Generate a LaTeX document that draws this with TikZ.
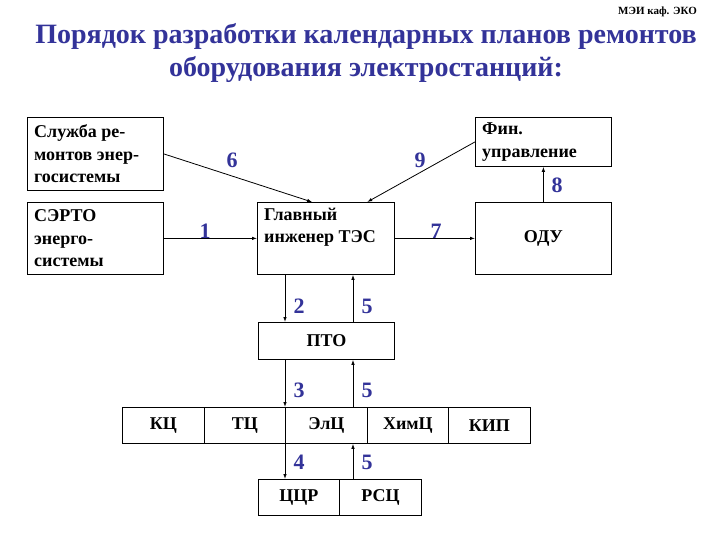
\documentclass[tikz,border=0pt]{standalone}
\usepackage{fontspec}
\setmainfont{Liberation Serif}
\usetikzlibrary{arrows.meta,calc}
\definecolor{ttl}{RGB}{51,51,153}
\begin{document}
\begin{tikzpicture}[x=1pt,y=-1pt,
  box/.style={draw, line width=0.8pt, inner sep=0pt, anchor=north west},
  cell/.style={box, font=\fontsize{18}{22}\selectfont\bfseries},
  txt/.style={font=\fontsize{18}{22.5}\selectfont\bfseries, align=left, anchor=west, inner sep=0pt},
  num/.style={font=\fontsize{22}{24}\selectfont\bfseries, text=ttl},
  arr/.style={line width=0.8pt, -{Latex[length=5pt,width=3.5pt]}}]
\useasboundingbox (0,0) rectangle (720,540);
\node[font=\fontsize{11}{12}\selectfont\bfseries, anchor=east, inner sep=0pt] (hdr) at (697,12) {МЭИ каф. ЭКО};
\node[font=\fontsize{28}{33}\selectfont\bfseries, text=ttl, align=center] (title) at (366,53)
  {Порядок разработки календарных планов ремонтов\\оборудования электростанций:};
% boxes
\node[box, minimum width=136pt, minimum height=73pt] (sl) at (27,117) {};
\node[txt] (tsl) at ([xshift=7pt]sl.west) {Служба ре-\\монтов энер-\\госистемы};
\node[box, minimum width=136pt, minimum height=72pt] (se) at (27,202) {};
\node[txt] (tse) at ([xshift=7pt]se.west) {СЭРТО\\энерго-\\системы};
\node[box, minimum width=137pt, minimum height=72pt] (gl) at (257,202) {};
\node[txt] (tgl) at ([xshift=7pt,yshift=11pt]gl.west) {Главный\\инженер ТЭС};
\node[box, minimum width=136pt, minimum height=49pt] (fin) at (475,117) {};
\node[txt] (tfin) at ([xshift=7pt]fin.west) {Фин.\\управление};
\node[cell, minimum width=136pt, minimum height=72pt] (odu) at (475,202) {ОДУ};
\node[cell, minimum width=136pt, minimum height=37pt] (pto) at (258,322) {ПТО};
\node[cell, minimum width=82pt, minimum height=36pt] (c1) at (122,407) {КЦ};
\node[cell, minimum width=81pt, minimum height=36pt] (c2) at (204,407) {ТЦ};
\node[cell, minimum width=82pt, minimum height=36pt] (c3) at (285,407) {ЭлЦ};
\node[cell, minimum width=81pt, minimum height=36pt] (c4) at (367,407) {ХимЦ};
\node[cell, minimum width=82pt, minimum height=36pt] (c5) at (448,407) {КИП};
\node[cell, minimum width=81pt, minimum height=36pt] (ccr) at (258,479) {ЦЦР};
\node[cell, minimum width=82pt, minimum height=36pt] (rsc) at (339,479) {РСЦ};
\coordinate (xa) at (285,0);
\coordinate (xb) at (353,0);
% connectors
\draw[arr] (sl.east) -- ($(gl.north west)!0.4!(gl.north east)$);
\draw[arr] (fin.west) -- ($(gl.north west)!0.8!(gl.north east)$);
\draw[arr] (se.east) -- (gl.west);
\draw[arr] (gl.east) -- (odu.west);
\draw[arr] (odu.north) -- (fin.south);
\draw[arr] (gl.south -| xa) -- (pto.north -| xa);
\draw[arr] (pto.north -| xb) -- (gl.south -| xb);
\draw[arr] (pto.south -| xa) -- (c3.north west);
\draw[arr] (c3.north -| xb) -- (pto.south -| xb);
\draw[arr] (c3.south west) -- (ccr.north -| xa);
\draw[arr] (ccr.north -| xb) -- (c3.south -| xb);
% numbers
\node[num] (n6) at (232,160) {6};
\node[num] (n9) at (420,160) {9};
\node[num] (n1) at (205,231) {1};
\node[num] (n7) at (436,231) {7};
\node[num] (n8) at (557,185) {8};
\node[num] (n2) at (299,306) {2};
\node[num] (n5a) at (367,306) {5};
\node[num] (n3) at (299,390) {3};
\node[num] (n5b) at (367,390) {5};
\node[num] (n4) at (299,462) {4};
\node[num] (n5c) at (367,462) {5};
\end{tikzpicture}
\end{document}
